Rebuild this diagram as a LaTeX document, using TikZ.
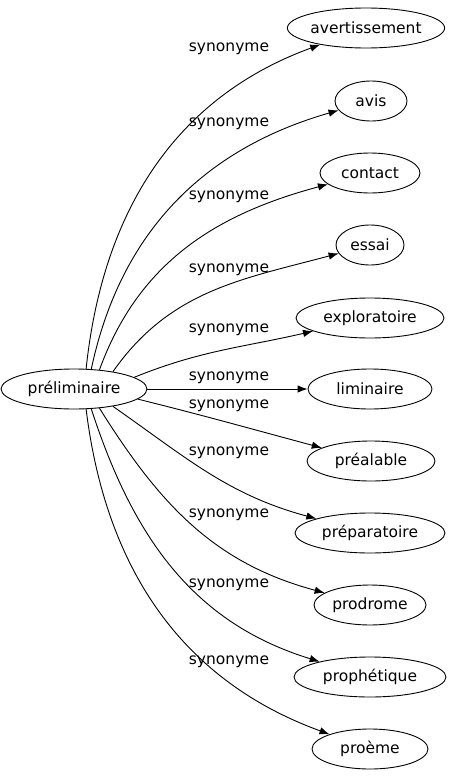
\documentclass[tikz,border=0pt]{standalone}
\usepackage{fontspec}
\setmainfont{DejaVu Sans}
\usetikzlibrary{arrows.meta}
\usetikzlibrary{shapes.geometric}
\tikzset{syn/.style = {draw, ellipse, inner sep = 0, minimum height = 40pt}}
\tikzset{lab/.style = {inner sep = 0}}
\tikzset{edge/.style = {-{Latex[length=10pt, width=7.5pt]}}}

\begin{document}
\begin{tikzpicture}[x=1pt, y=-1pt, line width=0.9pt, font=\fontsize{15.5}{18}\selectfont]
    \useasboundingbox (0, 0) rectangle (463, 779);

    \node [syn, minimum width = 146pt] (prelim) at (74, 389) {préliminaire};

    \node [syn, minimum width = 150pt] (avert) at (366, 28) {avertissement};
    \node [syn, minimum width = 72pt] (avis) at (371, 101) {avis};
    \node [syn, minimum width = 100pt] (contact) at (370, 173) {contact};
    \node [syn, minimum width = 68pt] (essai) at (370, 245) {essai};
    \node [syn, minimum width = 148pt] (explo) at (370, 318) {exploratoire};
    \node [syn, minimum width = 124pt] (limin) at (370, 389) {liminaire};
    \node [syn, minimum width = 128pt] (preal) at (371, 461) {préalable};
    \node [syn, minimum width = 150pt] (prepa) at (370, 533) {préparatoire};
    \node [syn, minimum width = 112pt] (prodr) at (370, 605) {prodrome};
    \node [syn, minimum width = 152pt] (proph) at (370, 677) {prophétique};
    \node [syn, minimum width = 116pt] (proem) at (370, 749) {proème};

    \draw [edge] (prelim.59) to [out = 84, in = 200] (avert);
    \draw [edge] (prelim.49) to [out = 78, in = 196] (avis);
    \draw [edge] (prelim.37) to [out = 70, in = 195] (contact);
    \draw [edge] (prelim.24) to [out = 55, in = 195] (essai);
    \draw [edge] (prelim.11) to [out = 22, in = 193] (explo);
    \draw [edge] (prelim) -- (limin);
    \draw [edge] (prelim.-9) to [out = -14, in = 165] (preal);
    \draw [edge] (prelim.-24) to [out = -35, in = 165] (prepa);
    \draw [edge] (prelim.-37) to [out = -58, in = 165] (prodr);
    \draw [edge] (prelim.-49) to [out = -72, in = 163] (proph);
    \draw [edge] (prelim.-59) to [out = -83, in = 160] (proem);

    \node [lab] (s1) at (229, 49) {synonyme};
    \node [lab] (s2) at (229, 124) {synonyme};
    \node [lab] (s3) at (229, 197) {synonyme};
    \node [lab] (s4) at (229, 270) {synonyme};
    \node [lab] (s5) at (229, 330) {synonyme};
    \node [lab] (s6) at (229, 378) {synonyme};
    \node [lab] (s7) at (229, 406) {synonyme};
    \node [lab] (s8) at (229, 453) {synonyme};
    \node [lab] (s9) at (229, 515) {synonyme};
    \node [lab] (s10) at (229, 585) {synonyme};
    \node [lab] (s11) at (229, 662) {synonyme};
  \end{tikzpicture}
\end{document}
